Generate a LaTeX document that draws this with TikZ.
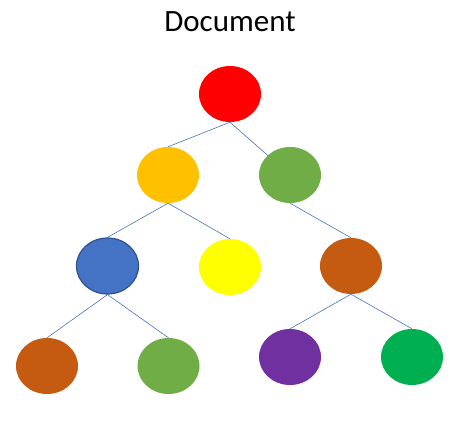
\documentclass[tikz,border=0pt]{standalone}
\usepackage{fontspec}
\setmainfont{Carlito}
\usetikzlibrary{backgrounds,shapes.geometric}

\definecolor{cRed}{HTML}{FF0000}
\definecolor{cOrange}{HTML}{FFC000}
\definecolor{cGreen}{HTML}{70AD47}
\definecolor{cBlue}{HTML}{4472C4}
\definecolor{cBlueDark}{HTML}{2F528F}
\definecolor{cYellow}{HTML}{FFFF00}
\definecolor{cBrown}{HTML}{C55A11}
\definecolor{cPurple}{HTML}{7030A0}
\definecolor{cEmerald}{HTML}{00B050}

\begin{document}
\begin{tikzpicture}[
x=1pt, y=-1pt,
bubble/.style={
ellipse,
inner sep=0pt,
minimum width=62pt,
minimum height=56pt
},
link/.style={
draw=cBlue,
line width=0.6pt
}
]

\useasboundingbox (0,0) rectangle (455,422);

\node (title) at (230,22)
{\fontsize{31}{36}\selectfont Document};

\node[bubble, fill=cRed] (root) at (230,94) {};

\node[bubble, fill=cOrange] (left) at (168,175) {};
\node[bubble, fill=cGreen] (right) at (290,175) {};

\node[bubble, fill=cBlue, draw=cBlueDark, line width=1.2pt] (ll) at (107.5,266) {};
\node[bubble, fill=cYellow] (lr) at (230,267) {};
\node[bubble, fill=cBrown] (rl) at (351,266) {};

\node[bubble, fill=cBrown] (lll) at (47,366) {};
\node[bubble, fill=cGreen] (llr) at (168.5,366) {};
\node[bubble, fill=cPurple] (rll) at (290,357) {};
\node[bubble, fill=cEmerald] (rlr) at (412,357) {};

\begin{scope}[on background layer]
\draw[link] (root.south) -- (left.north);
\draw[link] (root.south) -- (right.center);

\draw[link] (left.south) -- (ll.north);
\draw[link] (left.south) -- (lr.north);
\draw[link] (right.south) -- (rl.north);

\draw[link] (ll.south) -- (lll.north);
\draw[link] (ll.south) -- (llr.north);
\draw[link] (rl.south) -- (rll.north);
\draw[link] (rl.south) -- (rlr.north);
\end{scope}

\end{tikzpicture}
\end{document}
